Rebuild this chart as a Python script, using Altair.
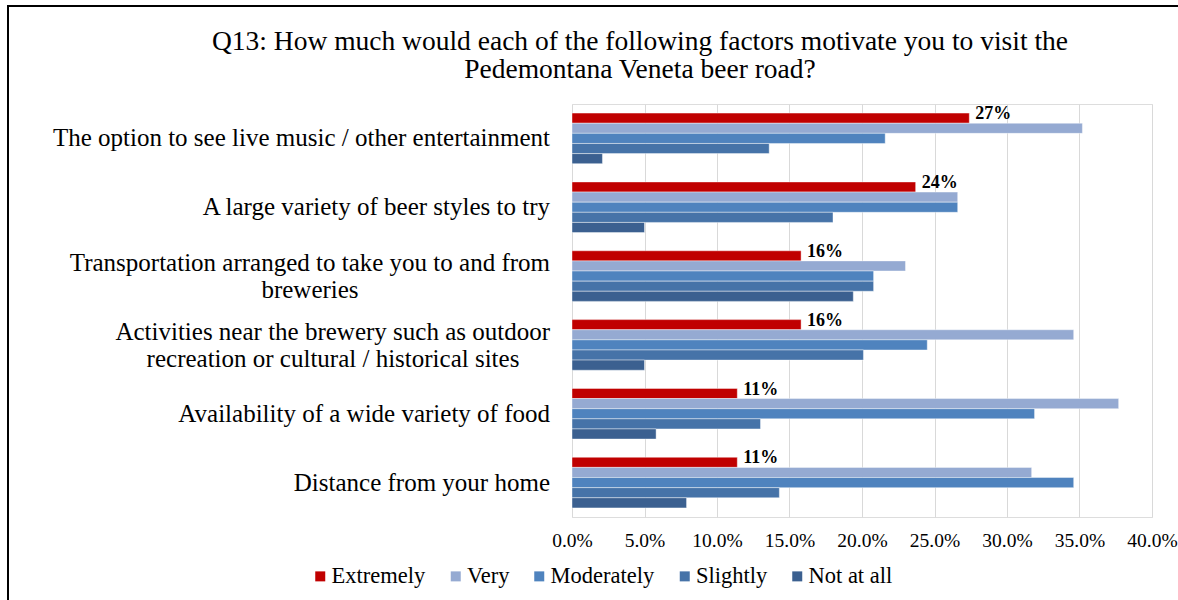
import altair as alt
import pandas as pd

categories = [
    "The option to see live music / other entertainment",
    "A large variety of beer styles to try",
    "Transportation arranged to take you to and from breweries",
    "Activities near the brewery such as outdoor recreation or cultural / historical sites",
    "Availability of a wide variety of food",
    "Distance from your home",
]
label_line1 = [
    "The option to see live music / other entertainment",
    "A large variety of beer styles to try",
    "Transportation arranged to take you to and from",
    "Activities near the brewery such as outdoor",
    "Availability of a wide variety of food",
    "Distance from your home",
]
label_line2 = ["", "", "breweries", "recreation or cultural / historical sites", "", ""]

series = ["Extremely", "Very", "Moderately", "Slightly", "Not at all"]
colors = ["#C00000", "#95AAD2", "#4F83BE", "#4673A8", "#3B6090"]

extremely = [27.4, 23.7, 15.8, 15.8, 11.4, 11.4]
very = [35.2, 26.6, 23.0, 34.6, 37.7, 31.7]
moderately = [21.6, 26.6, 20.8, 24.5, 31.9, 34.6]
slightly = [13.6, 18.0, 20.8, 20.1, 13.0, 14.3]
not_at_all = [2.1, 5.0, 19.4, 5.0, 5.8, 7.9]
extremely_labels = ["27%", "24%", "16%", "16%", "11%", "11%"]

x_ticks = [0, 0.05, 0.10, 0.15, 0.20, 0.25, 0.30, 0.35, 0.40]

title_line1 = "Q13: How much would each of the following factors motivate you to visit the"
title_line2 = "Pedemontana Veneta beer road?"

FONT = "Liberation Serif"

rows = []
for s, vals in zip(series, [extremely, very, moderately, slightly, not_at_all]):
    for c, v in zip(categories, vals):
        rows.append({"category": c, "series": s, "value": v / 100})
df = pd.DataFrame(rows)

lab_df = pd.DataFrame({
    "category": categories,
    "series": ["Extremely"] * len(categories),
    "value": [v / 100 for v in extremely],
    "label": extremely_labels,
})

cat_df = pd.DataFrame({
    "category": categories,
    "line1": label_line1,
    "line2": label_line2,
    "two": [1 if l else 0 for l in label_line2],
})

W, H = 580, 413

yscale = alt.Scale(domain=categories, paddingInner=0.265, paddingOuter=0.1325)
ychan = alt.Y("category:N", sort=categories, scale=yscale, axis=None)
xscale = alt.Scale(domain=[0, 0.4])
yoff = alt.YOffset("series:N", sort=series, scale=alt.Scale(domain=series, paddingInner=0))

bars = alt.Chart(df).mark_bar(stroke="#FFFFFF", strokeWidth=0.6, strokeOpacity=0.7).encode(
    y=ychan,
    yOffset=yoff,
    x=alt.X(
        "value:Q",
        scale=xscale,
        axis=alt.Axis(
            values=x_ticks, format=".1%", title=None, domain=False, ticks=False,
            grid=True, gridColor="#D9D9D9", gridWidth=1, labelFlush=False,
            labelFont=FONT, labelFontSize=19.5, labelColor="#000000", labelPadding=14,
        ),
    ),
    color=alt.Color(
        "series:N", sort=series,
        scale=alt.Scale(domain=series, range=colors),
        legend=alt.Legend(
            title=None, orient="none", direction="horizontal",
            legendX=-263, legendY=461,
            symbolType="square", symbolSize=100, symbolStrokeWidth=0,
            labelFont=FONT, labelFontSize=22.5, labelColor="#000000",
            labelOffset=0, columnPadding=18.5,
        ),
    ),
)

vlabels = alt.Chart(lab_df).mark_text(
    align="left", baseline="middle", dx=6, dy=-4,
    font=FONT, fontSize=18, fontWeight="bold", color="#000000",
).encode(
    y=ychan,
    yOffset=yoff,
    x=alt.X("value:Q", scale=xscale),
    text="label:N",
)

single = alt.Chart(cat_df).transform_filter("datum.two == 0").mark_text(
    align="right", baseline="middle", font=FONT, fontSize=25, color="#000000",
).encode(y=ychan, x=alt.value(-22), text="line1:N")

first = alt.Chart(cat_df).transform_filter("datum.two == 1").mark_text(
    align="right", baseline="middle", dy=-13, font=FONT, fontSize=25, color="#000000",
).encode(y=ychan, x=alt.value(-22), text="line1:N")

second_a = alt.Chart(cat_df).transform_filter(
    alt.datum.line2 == "breweries"
).mark_text(
    align="center", baseline="middle", dy=14, font=FONT, fontSize=25, color="#000000",
).encode(y=ychan, x=alt.value(-262), text="line2:N")

second_b = alt.Chart(cat_df).transform_filter(
    alt.datum.line2 == "recreation or cultural / historical sites"
).mark_text(
    align="center", baseline="middle", dy=14, font=FONT, fontSize=25, color="#000000",
).encode(y=ychan, x=alt.value(-239), text="line2:N")

title_df = pd.DataFrame({"t1": [title_line1], "t2": [title_line2]})
title1 = alt.Chart(title_df).mark_text(
    align="center", baseline="middle", font=FONT, fontSize=27.5, color="#000000",
).encode(x=alt.value(68), y=alt.value(-62), text="t1:N")
title2 = alt.Chart(title_df).mark_text(
    align="center", baseline="middle", font=FONT, fontSize=27.5, color="#000000",
).encode(x=alt.value(68), y=alt.value(-34), text="t2:N")

frame = alt.Chart(pd.DataFrame({"k": [0]})).mark_rect(
    fill=None, stroke="#000000", strokeWidth=2
).encode(
    x=alt.value(-564), x2=alt.value(W + 40),
    y=alt.value(-98), y2=alt.value(H + 100),
)

chart = alt.layer(
    bars, vlabels, single, first, second_a, second_b, title1, title2, frame
).properties(
    width=W, height=H,
    autosize=alt.AutoSizeParams(type="none"),
    padding={"left": 572, "top": 104, "right": 26, "bottom": 83},
).configure_view(stroke=None).configure(background="#FFFFFF")

chart.save("out.html", embed_options={"renderer": "svg", "actions": False})
